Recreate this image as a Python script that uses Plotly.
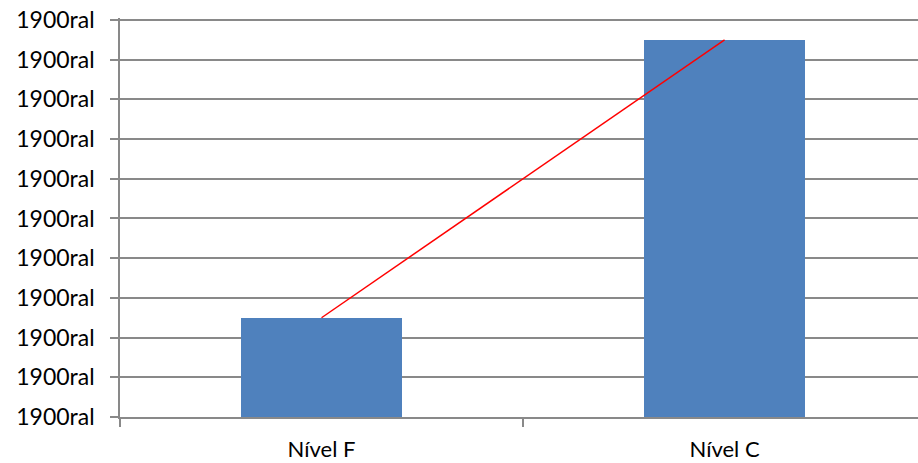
import plotly.graph_objects as go

categories = ["Nível F", "Nível C"]
bar_values = [2.5, 9.5]
line_values = [2.5, 9.5]
tick_values = list(range(0, 11))
tick_labels = ["1900ral"] * 11

grid = "#898989"
fig = go.Figure()
fig.add_trace(go.Bar(x=categories, y=bar_values, width=0.4,
                     marker=dict(color="#4F81BD", line=dict(width=0))))
fig.add_trace(go.Scatter(x=categories, y=line_values, mode="lines",
                         line=dict(color="#FF0000", width=1.5)))

fig.update_layout(
    width=918, height=463,
    margin=dict(l=120, r=0, t=18, b=46),
    paper_bgcolor="white", plot_bgcolor="white",
    showlegend=False,
    font=dict(family="Lato", size=23, color="#000000"),
    bargap=0,
)
fig.update_xaxes(
    range=[-0.5, 1.48], type="category", automargin=False,
    showline=True, linecolor=grid, linewidth=1.5,
    ticks="outside", tickson="boundaries", ticklen=8, tickcolor=grid, tickwidth=1.5,
    showgrid=False, tickfont=dict(size=22), ticklabelstandoff=12,
    ticklabeloverflow="allow",
)
fig.update_yaxes(
    range=[0, 10.05], tickvals=tick_values, ticktext=tick_labels, automargin=False,
    showline=True, linecolor=grid, linewidth=1.5,
    ticks="outside", ticklen=8, tickcolor=grid, tickwidth=1.5,
    showgrid=True, gridcolor=grid, gridwidth=1.5,
    zeroline=False, ticklabelstandoff=11, tickfont=dict(size=23),
    ticklabeloverflow="allow",
)
fig.write_html("out.html", config={"displayModeBar": False},
               post_script="document.body.style.margin='0';")
